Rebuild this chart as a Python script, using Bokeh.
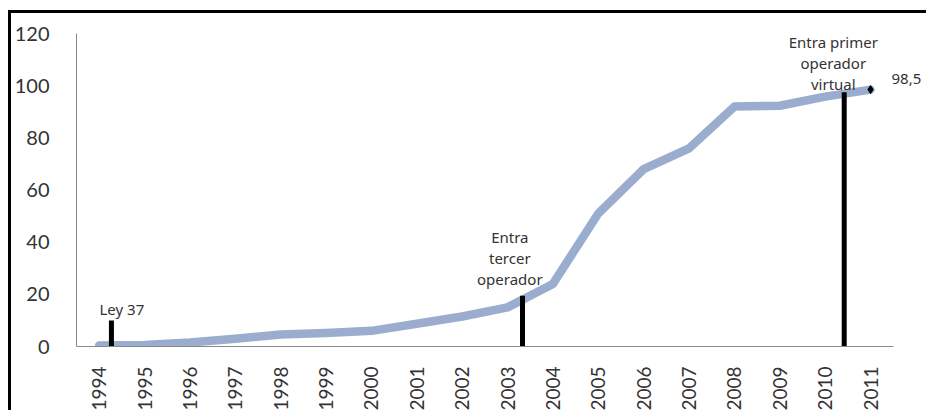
from bokeh.plotting import figure
from bokeh.models import Range1d, FixedTicker, Label, ColumnDataSource
from bokeh.core.properties import value
from bokeh.embed import file_html
from bokeh.resources import INLINE

# ---- data ----
years = list(range(1994, 2012))
penetration = [0.4, 0.6, 1.5, 3, 4.6, 5.2, 6, 8.7, 11.5, 15, 24, 51, 68, 76, 92, 92.3, 95.8, 98.5]
y_ticks = [0, 20, 40, 60, 80, 100, 120]

event_x = [1994.27, 2003.33, 2010.42]
event_top = [10, 19.5, 97.5]
event_text = ["Ley 37", "Entra\ntercer\noperador", "Entra primer\noperador\nvirtual"]
event_label_x = [1994.5, 2003.05, 2010.18]
event_label_y = [14.2, 34.0, 108.8]

last_value_label = f"{penetration[-1]:.1f}".replace(".", ",")

LINE_COLOR = "#9badce"
TEXT_COLOR = "#333333"
AXIS_COLOR = "#8a8a8a"

p = figure(
    width=918, height=400,
    x_range=Range1d(1993.5, 2012.3), y_range=Range1d(0, 120),
    output_backend="svg", toolbar_location=None,
    min_border_left=61, min_border_right=0, min_border_top=20, min_border_bottom=59,
)
p.styles = {"position": "relative", "left": "11px", "top": "13px",
            "box-shadow": "-3px -3px 0px 0px black"}
p.outline_line_color = None
p.xgrid.visible = False
p.ygrid.visible = False

# axes
p.yaxis.ticker = FixedTicker(ticks=y_ticks)
p.xaxis.ticker = FixedTicker(ticks=years)
p.xaxis.bounds = (1993.5, 2011.5)
for ax in (p.xaxis[0], p.yaxis[0]):
    ax.axis_line_color = AXIS_COLOR
    ax.axis_line_width = 1
    ax.major_tick_line_color = None
    ax.minor_tick_line_color = None
    ax.major_label_text_font = "Lato"
    ax.major_label_text_color = TEXT_COLOR
p.yaxis.major_label_text_font_size = "20px"
p.yaxis.major_label_standoff = 21
p.xaxis.major_label_text_font_size = "19px"
p.xaxis.major_label_orientation = 3.14159265 / 2
p.xaxis.major_label_standoff = 14

# series line
src = ColumnDataSource(dict(x=years, y=penetration))
p.line("x", "y", source=src, line_color=LINE_COLOR, line_width=8.5, line_cap="round", line_join="round")
p.scatter([years[-1]], [penetration[-1]], marker="diamond", size=8, color="black")

# event bars
ev = ColumnDataSource(dict(x=event_x, top=event_top, base=[0] * len(event_x),
                           lx=event_label_x, ly=event_label_y, t=event_text))
p.segment(x0="x", y0="base", x1="x", y1="top", source=ev, line_color="black", line_width=5)
p.text(x="lx", y="ly", text="t", source=ev, text_font=value("Noto Sans"),
       text_font_size="15px", text_color=TEXT_COLOR, text_align="center",
       text_baseline="middle", text_line_height=1.05)

p.add_layout(Label(x=years[-1], y=penetration[-1], text=last_value_label, x_offset=21, y_offset=11,
                   text_font="Noto Sans", text_font_size="15px", text_color=TEXT_COLOR,
                   text_baseline="middle"))

open("out.html", "w").write(file_html(p, INLINE))
